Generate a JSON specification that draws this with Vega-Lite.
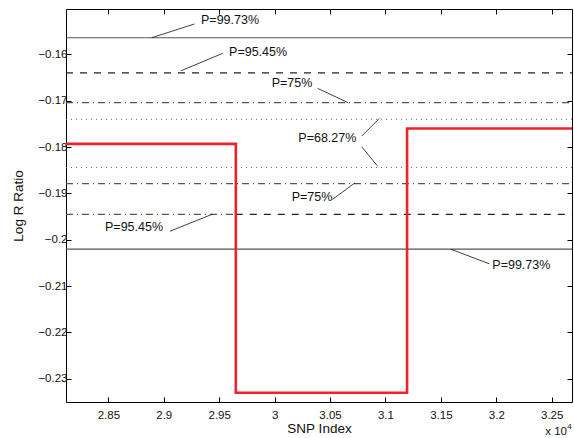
{
  "$schema": "https://vega.github.io/schema/vega-lite/v6.json",
  "width": 506,
  "height": 393,
  "autosize": {"type": "none"},
  "padding": {"left": 66, "top": 9, "right": 2, "bottom": 36},
  "background": "white",
  "config": {
    "view": {"stroke": "#000", "strokeWidth": 1},
    "font": "Liberation Sans",
    "axis": {
      "grid": false,
      "domainColor": "#000",
      "tickColor": "#000",
      "labelColor": "#111",
      "titleColor": "#111",
      "labelFont": "Liberation Sans",
      "titleFont": "Liberation Sans",
      "labelFontSize": 11.5,
      "titleFontSize": 13.5,
      "titleFontWeight": "normal",
      "tickSize": -5,
      "labelPadding": 4
    }
  },
  "datasets": {
    "hlines": [
      {"style": "solid", "x1": 28118, "x2": 32683, "y": -0.1564},
      {"style": "solid", "x1": 28118, "x2": 32683, "y": -0.2020},
      {"style": "dashed", "x1": 28118, "x2": 32683, "y": -0.1640},
      {"style": "dashed", "x1": 29650, "x2": 32683, "y": -0.1945},
      {"style": "dashdot", "x1": 28118, "x2": 32683, "y": -0.1704},
      {"style": "dashdot", "x1": 28118, "x2": 32683, "y": -0.1879},
      {"style": "dashdot", "x1": 28118, "x2": 29650, "y": -0.1945},
      {"style": "dotted", "x1": 28118, "x2": 32683, "y": -0.1740},
      {"style": "dotted", "x1": 28118, "x2": 32683, "y": -0.1844}
    ],
    "segment": [
      {"order": 1, "x": 28118, "y": -0.1793},
      {"order": 2, "x": 29650, "y": -0.1793},
      {"order": 3, "x": 29650, "y": -0.2330},
      {"order": 4, "x": 31195, "y": -0.2330},
      {"order": 5, "x": 31195, "y": -0.1760},
      {"order": 6, "x": 32683, "y": -0.1760}
    ],
    "leaders": [
      {"x": 28891, "y": -0.1564, "x2": 29276, "y2": -0.15344},
      {"x": 29156, "y": -0.16353, "x2": 29532, "y2": -0.15977},
      {"x": 30389, "y": -0.16733, "x2": 30665, "y2": -0.17044},
      {"x": 30786, "y": -0.17763, "x2": 30945, "y2": -0.17381},
      {"x": 30786, "y": -0.17994, "x2": 30927, "y2": -0.18404},
      {"x": 30521, "y": -0.19130, "x2": 30725, "y2": -0.18771},
      {"x": 29056, "y": -0.19815, "x2": 29438, "y2": -0.19448},
      {"x": 31592, "y": -0.20204, "x2": 31937, "y2": -0.20518}
    ],
    "labels": [
      {"x": 29336, "y": -0.15258, "label": "P=99.73%"},
      {"x": 29589, "y": -0.15942, "label": "P=95.45%"},
      {"x": 29974, "y": -0.16625, "label": "P=75%"},
      {"x": 30214, "y": -0.17813, "label": "P=68.27%"},
      {"x": 30154, "y": -0.19074, "label": "P=75%"},
      {"x": 28470, "y": -0.19722, "label": "P=95.45%"},
      {"x": 31964, "y": -0.20549, "label": "P=99.73%"}
    ],
    "exponent": [
      {"x": 32638, "y": -0.2415, "label": "x 10"}
    ],
    "power": [
      {"x": 32640, "y": -0.2403, "label": "4"}
    ]
  },
  "layer": [
    {
      "data": {"name": "hlines"},
      "transform": [{"filter": "datum.style == 'dotted'"}],
      "mark": {"type": "rule", "color": "#666", "strokeWidth": 1, "strokeDash": [1, 4]},
      "encoding": {
        "x": {"field": "x1", "type": "quantitative", "scale": {"domain": [28118, 32683], "nice": false, "zero": false}, "axis": null},
        "x2": {"field": "x2"},
        "y": {"field": "y", "type": "quantitative", "scale": {"domain": [-0.2350, -0.1502], "nice": false, "zero": false}, "axis": null}
      }
    },
    {
      "data": {"name": "hlines"},
      "transform": [{"filter": "datum.style == 'dashdot'"}],
      "mark": {"type": "rule", "color": "#555", "strokeWidth": 1.2, "strokeDash": [7, 4, 1, 4]},
      "encoding": {
        "x": {"field": "x1", "type": "quantitative", "axis": null},
        "x2": {"field": "x2"},
        "y": {"field": "y", "type": "quantitative", "axis": null}
      }
    },
    {
      "data": {"name": "hlines"},
      "transform": [{"filter": "datum.style == 'dashed'"}],
      "mark": {"type": "rule", "color": "#222", "strokeWidth": 1.3, "strokeDash": [7, 7]},
      "encoding": {
        "x": {"field": "x1", "type": "quantitative", "axis": null},
        "x2": {"field": "x2"},
        "y": {"field": "y", "type": "quantitative", "axis": null}
      }
    },
    {
      "data": {"name": "hlines"},
      "transform": [{"filter": "datum.style == 'solid'"}],
      "mark": {"type": "rule", "color": "#555", "strokeWidth": 1.2},
      "encoding": {
        "x": {"field": "x1", "type": "quantitative", "axis": {"orient": "top", "labels": false, "title": null, "values": [28500, 29000, 29500, 30000, 30500, 31000, 31500, 32000, 32500], "domain": false}},
        "x2": {"field": "x2"},
        "y": {"field": "y", "type": "quantitative", "axis": {"orient": "right", "labels": false, "title": null, "values": [-0.23, -0.22, -0.21, -0.2, -0.19, -0.18, -0.17, -0.16], "domain": false}}
      }
    },
    {
      "data": {"name": "segment"},
      "mark": {"type": "line", "color": "#ee2228", "strokeWidth": 2.6, "strokeJoin": "miter", "strokeCap": "butt"},
      "encoding": {
        "x": {"field": "x", "type": "quantitative", "axis": {"orient": "bottom", "title": "SNP Index", "titlePadding": 1, "labelPadding": 12, "values": [28500, 29000, 29500, 30000, 30500, 31000, 31500, 32000, 32500], "labelExpr": "format(datum.value / 10000, '.3~f')", "domain": false}},
        "y": {"field": "y", "type": "quantitative", "axis": {"orient": "left", "title": "Log R Ratio", "titlePadding": 12, "values": [-0.23, -0.22, -0.21, -0.2, -0.19, -0.18, -0.17, -0.16], "labelExpr": "replace(format(datum.value, '.2~f'), '-', '−')", "domain": false}},
        "order": {"field": "order", "type": "quantitative"}
      }
    },
    {
      "data": {"name": "leaders"},
      "mark": {"type": "rule", "color": "#111", "strokeWidth": 0.8},
      "encoding": {
        "x": {"field": "x", "type": "quantitative", "axis": null},
        "y": {"field": "y", "type": "quantitative", "axis": null},
        "x2": {"field": "x2"},
        "y2": {"field": "y2"}
      }
    },
    {
      "data": {"name": "labels"},
      "mark": {"type": "text", "align": "left", "baseline": "middle", "fontSize": 12.5, "font": "Liberation Sans", "color": "#111"},
      "encoding": {
        "x": {"field": "x", "type": "quantitative", "axis": null},
        "y": {"field": "y", "type": "quantitative", "axis": null},
        "text": {"field": "label"}
      }
    },
    {
      "data": {"name": "exponent"},
      "mark": {"type": "text", "align": "right", "baseline": "middle", "fontSize": 11.5, "font": "Liberation Sans", "color": "#111"},
      "encoding": {
        "x": {"field": "x", "type": "quantitative", "axis": null},
        "y": {"field": "y", "type": "quantitative", "axis": null},
        "text": {"field": "label"}
      }
    },
    {
      "data": {"name": "power"},
      "mark": {"type": "text", "align": "left", "baseline": "middle", "fontSize": 8, "font": "Liberation Sans", "color": "#111"},
      "encoding": {
        "x": {"field": "x", "type": "quantitative", "axis": null},
        "y": {"field": "y", "type": "quantitative", "axis": null},
        "text": {"field": "label"}
      }
    }
  ],
  "resolve": {"axis": {"x": "independent", "y": "independent"}}
}
